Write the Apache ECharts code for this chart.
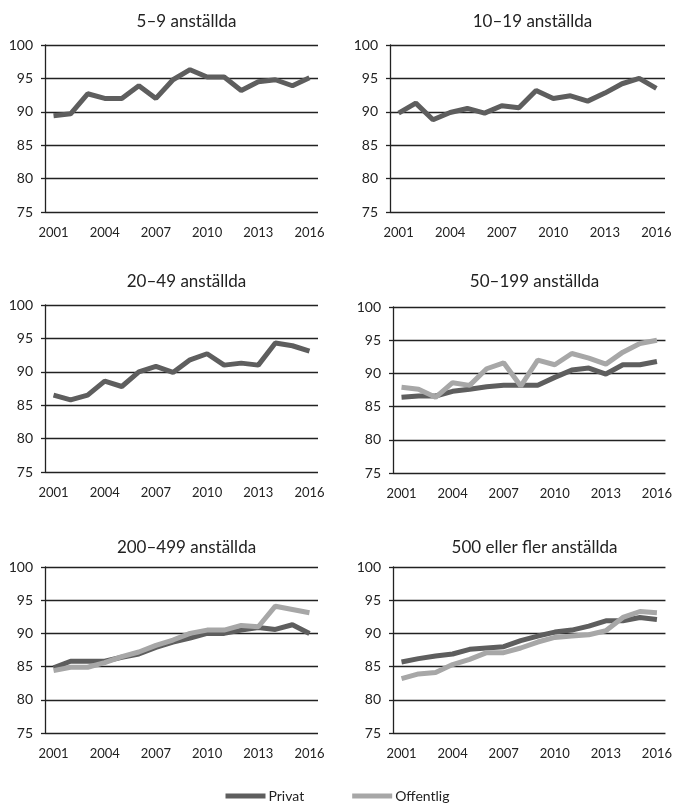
<!DOCTYPE html>
<html><head><meta charset="utf-8">
<script src="https://cdn.jsdelivr.net/npm/echarts@6/dist/echarts.min.js"></script>
<style>html,body{margin:0;padding:0;background:#fff}#c{width:675px;height:808px}</style>
</head><body><div id="c"></div>
<script>
const years = ['2001','2002','2003','2004','2005','2006','2007','2008','2009','2010','2011','2012','2013','2014','2015','2016'];
const yTicks = [75, 80, 85, 90, 95, 100];
const titles = ['5–9 anställda','10–19 anställda','20–49 anställda','50–199 anställda','200–499 anställda','500 eller fler anställda'];
const legendNames = ['Privat','Offentlig'];

const privat_5_9 = [89.4,89.7,92.7,92.0,92.0,93.9,92.0,94.8,96.3,95.2,95.2,93.2,94.5,94.8,93.9,95.1];
const privat_10_19 = [89.8,91.3,88.8,89.9,90.5,89.8,90.9,90.6,93.2,92.0,92.4,91.6,92.8,94.2,95.0,93.5];
const privat_20_49 = [86.5,85.8,86.5,88.6,87.8,90.0,90.8,89.9,91.8,92.7,91.0,91.3,91.0,94.3,93.9,93.1];
const privat_50_199 = [86.4,86.6,86.6,87.3,87.6,88.0,88.2,88.2,88.2,89.4,90.5,90.8,89.9,91.3,91.3,91.8];
const offentlig_50_199 = [87.9,87.6,86.4,88.6,88.2,90.7,91.6,88.1,92.0,91.3,93.0,92.3,91.4,93.2,94.5,95.0];
const privat_200_499 = [84.8,85.8,85.8,85.8,86.4,86.9,87.9,88.7,89.3,90.0,90.0,90.5,90.9,90.6,91.3,90.0];
const offentlig_200_499 = [84.4,84.9,84.9,85.6,86.5,87.2,88.2,89.0,90.0,90.5,90.5,91.2,91.0,94.1,93.6,93.1];
const privat_500 = [85.7,86.2,86.6,86.9,87.6,87.8,88.0,88.9,89.6,90.2,90.5,91.1,91.9,91.9,92.4,92.1];
const offentlig_500 = [83.2,83.9,84.1,85.3,86.1,87.1,87.1,87.8,88.7,89.4,89.6,89.8,90.4,92.4,93.3,93.1];

const panelSeries = [
  [privat_5_9, null],
  [privat_10_19, null],
  [privat_20_49, null],
  [privat_50_199, offentlig_50_199],
  [privat_200_499, offentlig_200_499],
  [privat_500, offentlig_500]
];

const FONT = 'Lato';
const TXT = '#222';
const DARK = '#5e5e5e';
const LIGHT = '#a7a7a7';

const grids = [
  {left:45, top:45, width:273, height:167},
  {left:390, top:45, width:275, height:167},
  {left:45, top:305, width:273, height:167},
  {left:393, top:307, width:273, height:166},
  {left:45, top:567, width:273, height:166},
  {left:393, top:567, width:273, height:166}
];
const titleY = [8, 8, 268, 268, 534, 534];

const option = {
  animation:false,
  backgroundColor:'#fff',
  textStyle:{fontFamily:FONT},
  title: titles.map((t,i)=>({
    text:t,
    left: grids[i].left + grids[i].width/2,
    top: titleY[i],
    textAlign:'center',
    textStyle:{fontFamily:FONT,fontSize:17,fontWeight:'normal',color:TXT}
  })),
  legend:{
    data:legendNames,
    bottom:0,
    left:'center',
    icon:'rect',
    itemWidth:40,
    itemHeight:5,
    itemGap:48,
    textStyle:{fontFamily:FONT,fontSize:14,color:TXT,padding:[0,0,0,-2]}
  },
  grid: grids.map(g=>Object.assign({containLabel:false},g)),
  xAxis: grids.map((g,i)=>({
    type:'category', gridIndex:i, data:years, boundaryGap:true,
    axisLine:{show:false},
    axisTick:{show:false},
    axisLabel:{interval:2, margin:14, fontFamily:FONT, fontSize:13, color:TXT},
    splitLine:{show:false}
  })),
  yAxis: grids.map((g,i)=>({
    type:'value', gridIndex:i, min:yTicks[0], max:yTicks[yTicks.length-1], interval:5,
    axisLine:{show:true, lineStyle:{color:'#222', width:1.3}},
    axisTick:{show:true, length:4, lineStyle:{color:'#222', width:1.3}},
    axisLabel:{margin:12, fontFamily:FONT, fontSize:14, color:TXT},
    splitLine:{show:true, lineStyle:{color:'#222', width:1.3}}
  })),
  series: []
};

panelSeries.forEach((pair,i)=>{
  if (pair[1]) {
    option.series.push({
      name:legendNames[1], type:'line', xAxisIndex:i, yAxisIndex:i, data:pair[1],
      symbol:'none', lineStyle:{color:LIGHT, width:5}, itemStyle:{color:LIGHT}, z:3
    });
  }
  option.series.push({
    name:legendNames[0], type:'line', xAxisIndex:i, yAxisIndex:i, data:pair[0],
    symbol:'none', lineStyle:{color:DARK, width:5}, itemStyle:{color:DARK}, z:2
  });
});

const chart = echarts.init(document.getElementById('c'), null, {renderer:'canvas'});
chart.setOption(option);
</script>
</body></html>
